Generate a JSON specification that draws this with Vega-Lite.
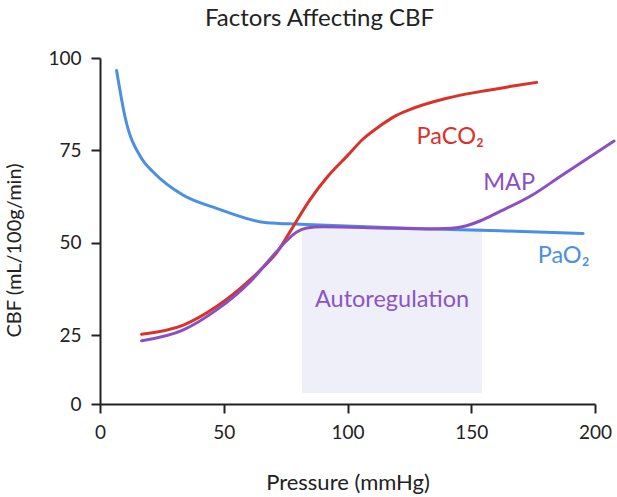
{
  "$schema": "https://vega.github.io/schema/vega-lite/v6.json",
  "width": 495,
  "height": 346,
  "autosize": "none",
  "padding": {"left": 100, "top": 58, "right": 22, "bottom": 93},
  "background": "white",
  "config": {
    "view": {"stroke": null},
    "font": "Lato",
    "axis": {
      "grid": false,
      "domainColor": "#222222",
      "domainWidth": 2,
      "tickColor": "#222222",
      "tickWidth": 2,
      "tickSize": 9,
      "labelColor": "#222222",
      "labelFont": "Lato",
      "labelFontSize": 19,
      "labelFlush": false,
      "titleColor": "#222222",
      "titleFont": "Lato",
      "titleFontWeight": "normal"
    }
  },
  "title": {
    "text": "Factors Affecting CBF",
    "font": "Lato",
    "fontSize": 24,
    "fontWeight": "normal",
    "color": "#222222",
    "anchor": "start",
    "frame": "group",
    "dx": 105,
    "offset": 18
  },
  "datasets": {
    "region": [{"x": 81.6, "x2": 154.3, "y": 4, "y2": 54}],
    "curves": [
      {"series": "PaO2", "pressure": 6.7, "cbf": 96.6},
      {"series": "PaO2", "pressure": 10.1, "cbf": 84.1},
      {"series": "PaO2", "pressure": 16.8, "cbf": 72.8},
      {"series": "PaO2", "pressure": 21.4, "cbf": 69.2},
      {"series": "PaO2", "pressure": 33.5, "cbf": 62.9},
      {"series": "PaO2", "pressure": 47.1, "cbf": 59.3},
      {"series": "PaO2", "pressure": 67.4, "cbf": 55.4},
      {"series": "PaO2", "pressure": 80.8, "cbf": 55.0},
      {"series": "PaO2", "pressure": 121, "cbf": 54.0},
      {"series": "PaO2", "pressure": 161.6, "cbf": 53.2},
      {"series": "PaO2", "pressure": 195.2, "cbf": 52.5},
      {"series": "PaCO2", "pressure": 16.8, "cbf": 25.2},
      {"series": "PaCO2", "pressure": 33.7, "cbf": 27.7},
      {"series": "PaCO2", "pressure": 47.1, "cbf": 32.7},
      {"series": "PaCO2", "pressure": 60.6, "cbf": 39.9},
      {"series": "PaCO2", "pressure": 66, "cbf": 43.4},
      {"series": "PaCO2", "pressure": 71.4, "cbf": 47.3},
      {"series": "PaCO2", "pressure": 76.8, "cbf": 53.0},
      {"series": "PaCO2", "pressure": 84.8, "cbf": 61.6},
      {"series": "PaCO2", "pressure": 92, "cbf": 67.9},
      {"series": "PaCO2", "pressure": 99.6, "cbf": 73.3},
      {"series": "PaCO2", "pressure": 106.5, "cbf": 78.2},
      {"series": "PaCO2", "pressure": 113.1, "cbf": 81.6},
      {"series": "PaCO2", "pressure": 118.5, "cbf": 84.0},
      {"series": "PaCO2", "pressure": 123.9, "cbf": 85.7},
      {"series": "PaCO2", "pressure": 140.1, "cbf": 89.1},
      {"series": "PaCO2", "pressure": 153.5, "cbf": 90.9},
      {"series": "PaCO2", "pressure": 166.9, "cbf": 92.4},
      {"series": "PaCO2", "pressure": 176.4, "cbf": 93.4},
      {"series": "MAP", "pressure": 16.8, "cbf": 22.9},
      {"series": "MAP", "pressure": 33.7, "cbf": 26.4},
      {"series": "MAP", "pressure": 47.1, "cbf": 31.8},
      {"series": "MAP", "pressure": 60.6, "cbf": 39.4},
      {"series": "MAP", "pressure": 71.4, "cbf": 47.6},
      {"series": "MAP", "pressure": 75.5, "cbf": 50.6},
      {"series": "MAP", "pressure": 79.5, "cbf": 52.9},
      {"series": "MAP", "pressure": 83.5, "cbf": 54.0},
      {"series": "MAP", "pressure": 90, "cbf": 54.3},
      {"series": "MAP", "pressure": 113.1, "cbf": 54.0},
      {"series": "MAP", "pressure": 132, "cbf": 53.7},
      {"series": "MAP", "pressure": 142, "cbf": 53.9},
      {"series": "MAP", "pressure": 148.1, "cbf": 54.6},
      {"series": "MAP", "pressure": 154, "cbf": 56.0},
      {"series": "MAP", "pressure": 160.2, "cbf": 58.0},
      {"series": "MAP", "pressure": 174.7, "cbf": 62.9},
      {"series": "MAP", "pressure": 185.9, "cbf": 67.9},
      {"series": "MAP", "pressure": 207.7, "cbf": 77.5}
    ],
    "labels": [
      {"series": "PaCO2", "text": "PaCO₂", "pressure": 141.5, "cbf": 78.6},
      {"series": "MAP", "text": "MAP", "pressure": 165.3, "cbf": 66.2},
      {"series": "PaO2", "text": "PaO₂", "pressure": 187.3, "cbf": 46.4},
      {"series": "Autoregulation", "text": "Autoregulation", "pressure": 118, "cbf": 34.5}
    ]
  },
  "layer": [
    {
      "data": {"name": "region"},
      "mark": {"type": "rect", "color": "#efeffa"},
      "encoding": {
        "x": {"field": "x", "type": "quantitative", "scale": {"domain": [0, 200], "nice": false}, "axis": {"values": [0, 50, 100, 150, 200], "title": "Pressure (mmHg)", "titleFontSize": 22, "titleBaseline": "middle", "titleY": 78, "labelPadding": 10}},
        "x2": {"field": "x2"},
        "y": {"field": "y", "type": "quantitative", "scale": {"domain": [0, 25, 100], "range": [346, 277, 0], "nice": false, "zero": false}, "axis": {"values": [0, 25, 50, 75, 100], "title": "CBF (mL/100g/min)", "titleFontSize": 20, "titleAngle": -90, "titleBaseline": "middle", "titleAlign": "center", "titleX": -86, "titleY": 192, "labelPadding": 10}},
        "y2": {"field": "y2"}
      }
    },
    {
      "data": {"name": "curves"},
      "mark": {"type": "line", "interpolate": "monotone", "strokeWidth": 3, "strokeCap": "round", "clip": false},
      "encoding": {
        "x": {"field": "pressure", "type": "quantitative"},
        "y": {"field": "cbf", "type": "quantitative"},
        "color": {"field": "series", "type": "nominal", "legend": null, "scale": {"domain": ["PaCO2", "MAP", "PaO2", "Autoregulation"], "range": ["#d8322b", "#8a4fc0", "#4a8fe2", "#8a55c4"]}}
      }
    },
    {
      "data": {"name": "labels"},
      "mark": {"type": "text", "font": "Lato", "fontSize": 23.5, "align": "center", "baseline": "middle"},
      "encoding": {
        "x": {"field": "pressure", "type": "quantitative"},
        "y": {"field": "cbf", "type": "quantitative"},
        "text": {"field": "text"},
        "color": {"field": "series", "type": "nominal", "legend": null}
      }
    }
  ]
}
